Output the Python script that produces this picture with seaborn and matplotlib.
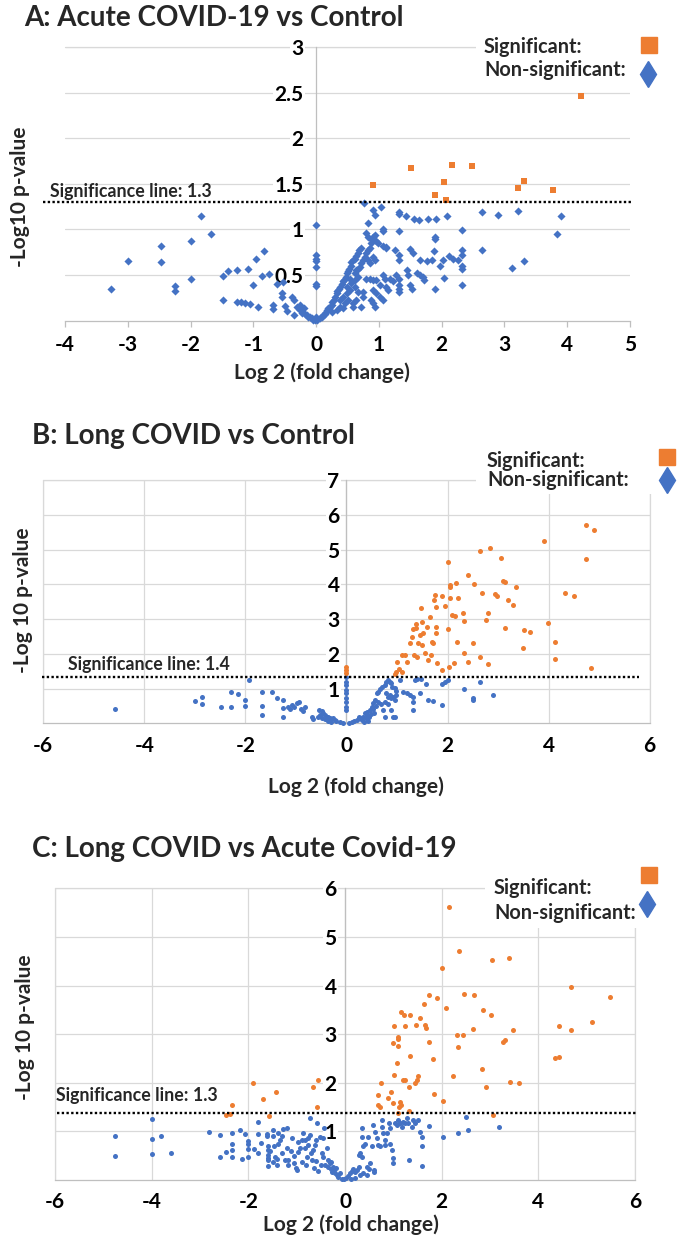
import matplotlib
matplotlib.use("Agg")
import matplotlib.pyplot as plt
import seaborn as sns
import pandas as pd
from matplotlib.patches import Rectangle
from matplotlib.lines import Line2D

# ---------------- data ----------------
titles = ["A: Acute COVID-19 vs Control", "B: Long COVID vs Control",
          "C: Long COVID vs Acute Covid-19"]
sig_texts = ["Significance line: 1.3", "Significance line: 1.4", "Significance line: 1.3"]
sig_levels = [1.30, 1.32, 1.38]
ylabels = ["-Log10 p-value", "-Log 10 p-value", "-Log 10 p-value"]
xlabel = "Log 2 (fold change)"
legend_labels = ["Significant:", "Non-significant:"]

a_xticks = [-4, -3, -2, -1, 0, 1, 2, 3, 4, 5]
a_yticks = [0.5, 1, 1.5, 2, 2.5, 3]
a_ytick_labels = ["0.5", "1", "1.5", "2", "2.5", "3"]
b_xticks = [-6, -4, -2, 0, 2, 4, 6]
b_yticks = [1, 2, 3, 4, 5, 6, 7]
c_xticks = [-6, -4, -2, 0, 2, 4, 6]
c_yticks = [1, 2, 3, 4, 5, 6]

a_sig = [(0.90, 1.49), (1.51, 1.67), (2.16, 1.71), (2.49, 1.70), (2.03, 1.52), (1.90, 1.38),
         (2.07, 1.32), (3.21, 1.45), (3.31, 1.53), (3.77, 1.43), (4.22, 2.46)]

a_ns = [(-3.26, 0.35), (-2.99, 0.65), (-2.47, 0.82), (-2.47, 0.64), (-2.25, 0.38), (-2.25, 0.33),
        (-2.00, 0.87), (-2.00, 0.46), (-1.84, 1.15), (-1.67, 0.95), (-1.48, 0.49), (-1.48, 0.23),
        (-1.41, 0.54), (-1.26, 0.56), (-1.26, 0.20), (-1.19, 0.20), (-1.13, 0.19), (-1.05, 0.18),
        (-1.09, 0.57), (-1.00, 0.39), (-0.96, 0.68), (-0.93, 0.15),
        (-0.83, 0.76), (-0.86, 0.49), (-0.75, 0.51), (-0.68, 0.17), (-0.68, 0.13), (-0.63, 0.40),
        (-0.55, 0.30), (-0.55, 0.26), (-0.52, 0.42), (-0.50, 0.16), (-0.47, 0.11), (-0.39, 0.26),
        (-0.36, 0.23), (-0.36, 0.06), (-0.31, 0.15), (-0.26, 0.17), (-0.26, 0.12), (-0.23, 0.08),
        (-0.20, 0.14), (-0.18, 0.07), (-0.15, 0.06), (-0.13, 0.04), (-0.10, 0.04), (-0.07, 0.03),
        (-0.05, 0.01), (-0.02, 0.01),
        (0.00, 1.05), (0.00, 0.72), (0.00, 0.68), (0.00, 0.65), (0.00, 0.59), (0.00, 0.40),
        (0.00, 0.38), (0.00, 0.04), (0.01, 0.01),
        (0.06, 0.03), (0.09, 0.04), (0.11, 0.06), (0.14, 0.07), (0.16, 0.10), (0.18, 0.12),
        (0.19, 0.14), (0.22, 0.15), (0.25, 0.17), (0.26, 0.20), (0.29, 0.23), (0.30, 0.26),
        (0.33, 0.30), (0.34, 0.33), (0.36, 0.35), (0.38, 0.37), (0.41, 0.40), (0.43, 0.43),
        (0.45, 0.45), (0.47, 0.48), (0.49, 0.52), (0.51, 0.54), (0.53, 0.57), (0.55, 0.60),
        (0.56, 0.64), (0.59, 0.67), (0.62, 0.68), (0.64, 0.71), (0.67, 0.74), (0.69, 0.77),
        (0.71, 0.80), (0.62, 0.52), (0.64, 0.56), (0.67, 0.57), (0.70, 0.59), (0.72, 0.63),
        (0.75, 0.67), (0.78, 0.70), (0.80, 0.74), (0.83, 0.77), (0.86, 0.80), (0.87, 0.85),
        (0.89, 0.88), (0.91, 0.92), (0.94, 0.94),
        (0.76, 1.29), (0.90, 1.21), (0.94, 1.16), (1.04, 1.25), (0.82, 1.07), (0.79, 0.96),
        (0.83, 0.92), (1.07, 1.01), (1.07, 0.98), (1.11, 0.81), (1.26, 0.77), (1.32, 1.19),
        (1.32, 1.17), (1.32, 0.98), (1.32, 0.72), (1.32, 0.67), (1.43, 1.15), (1.56, 1.12),
        (1.64, 1.10), (1.78, 1.12), (1.91, 1.11), (2.08, 1.15), (1.90, 0.92), (1.90, 0.90),
        (1.87, 0.76), (1.89, 0.35), (1.49, 0.79), (1.55, 0.74), (1.65, 0.67), (1.76, 0.65),
        (1.85, 0.67), (1.97, 0.60), (2.02, 0.67), (2.03, 0.47), (2.12, 0.71), (2.18, 0.68),
        (2.26, 0.67), (2.32, 0.99), (2.32, 0.77), (2.32, 0.72), (2.32, 0.60), (2.32, 0.57),
        (2.32, 0.39), (2.65, 1.19), (2.65, 0.77), (2.90, 1.16),
        (1.07, 0.82), (1.12, 0.80), (0.96, 0.87), (0.99, 0.85), (0.91, 0.70), (0.94, 0.67),
        (0.80, 0.46), (0.86, 0.46), (0.91, 0.45), (0.96, 0.45), (0.83, 0.67), (0.86, 0.63),
        (1.02, 0.39), (0.91, 0.34), (0.96, 0.30), (1.02, 0.26), (1.07, 0.23), (0.88, 0.23),
        (0.91, 0.19), (0.94, 0.15), (1.12, 0.37), (1.15, 0.34), (1.18, 0.46), (1.23, 0.43),
        (1.28, 0.50), (1.32, 0.46), (1.32, 0.39), (1.32, 0.35), (1.32, 0.32), (1.44, 0.56),
        (1.47, 0.50), (1.49, 0.39), (1.52, 0.35), (1.60, 0.52), (1.65, 0.50), (1.70, 0.48),
        (1.72, 0.45), (1.07, 0.50), (1.10, 0.46), (0.74, 0.32), (0.75, 0.26), (0.71, 0.15),
        (0.59, 0.19), (0.59, 0.15), (0.64, 0.23),
        (0.38, 0.23), (0.43, 0.26), (0.49, 0.30), (0.46, 0.19), (0.51, 0.23), (0.38, 0.15),
        (0.54, 0.34), (0.56, 0.41), (0.62, 0.37), (0.67, 0.32), (0.33, 0.12), (0.43, 0.14),
        (0.25, 0.10), (0.49, 0.37), (0.54, 0.46), (0.62, 0.45), (0.67, 0.48),
        (3.21, 1.20), (3.12, 0.58), (3.31, 0.65), (3.90, 1.15), (3.83, 0.95)]

b_sig = [(0.00, 1.61), (0.00, 1.53), (0.00, 1.46),
         (0.96, 1.41), (0.99, 1.49), (1.04, 1.55), (1.09, 1.49), (1.00, 1.77), (1.09, 1.97),
         (1.16, 1.97), (1.19, 1.77), (1.25, 2.30), (1.29, 2.49), (1.31, 2.70), (1.38, 2.73),
         (1.38, 2.86), (1.34, 1.97), (1.39, 1.92), (1.42, 2.30), (1.45, 2.54), (1.49, 2.92),
         (1.49, 2.25), (1.52, 2.59), (1.47, 3.31), (1.55, 2.01), (1.59, 2.78), (1.62, 1.82),
         (1.65, 3.07), (1.67, 1.97), (1.70, 2.35), (1.72, 2.30), (1.73, 3.55), (1.75, 3.69),
         (1.77, 2.78), (1.77, 2.59), (1.80, 1.73), (1.77, 3.36), (1.90, 3.66), (1.90, 1.53),
         (1.95, 3.37), (2.00, 4.65), (2.00, 2.70), (2.04, 3.93), (2.05, 3.98), (2.03, 1.61),
         (2.05, 3.60), (2.08, 3.12), (2.12, 1.73), (2.17, 4.03), (2.15, 3.09), (2.18, 2.35),
         (2.20, 3.60), (2.31, 3.16), (2.33, 2.95), (2.33, 2.01), (2.41, 1.75), (2.41, 4.27),
         (2.51, 2.30), (2.53, 4.01), (2.64, 1.92), (2.65, 4.97), (2.69, 3.74), (2.77, 2.97),
         (2.81, 3.18), (2.81, 1.71), (2.84, 5.03), (2.94, 3.72), (2.98, 3.66), (3.05, 4.77),
         (3.09, 4.09), (3.14, 4.06), (3.14, 2.73), (3.20, 3.55), (3.30, 3.40), (3.36, 3.91),
         (3.51, 2.68), (3.64, 2.62), (3.49, 2.16), (3.99, 2.88), (4.13, 2.35), (4.13, 1.85),
         (4.33, 3.74), (4.50, 3.67), (4.85, 1.58), (3.91, 5.25), (4.74, 5.71), (4.90, 5.56),
         (4.75, 4.72)]

b_ns = [(-4.59, 0.40), (-3.00, 0.65), (-2.86, 0.77), (-2.86, 0.56), (-2.49, 0.46), (-2.28, 0.90),
        (-2.28, 0.46), (-2.14, 0.85), (-2.01, 0.67), (-2.01, 0.51), (-1.93, 1.26), (-1.68, 0.90),
        (-1.68, 0.50), (-1.68, 0.24), (-1.48, 0.90), (-1.37, 0.72), (-1.26, 0.67), (-1.26, 0.45),
        (-1.26, 0.19), (-1.15, 0.48), (-1.12, 0.40), (-1.07, 0.53), (-1.03, 0.46), (-0.98, 0.59),
        (-0.94, 0.62), (-0.89, 0.40), (-0.86, 0.34), (-0.82, 0.48), (-0.69, 0.19), (-0.67, 0.12),
        (-0.54, 0.38), (-0.49, 0.34), (-0.46, 0.29), (-0.53, 0.24), (-0.43, 0.24), (-0.39, 0.19),
        (-0.36, 0.17), (-0.33, 0.14), (-0.30, 0.12), (-0.26, 0.14), (-0.23, 0.10), (-0.20, 0.08),
        (-0.13, 0.05), (-0.06, 0.02), (-0.49, 0.14), (-0.56, 0.17), (-0.43, 0.12), (-0.36, 0.08),
        (-0.30, 0.05),
        (0.00, 1.34), (0.00, 1.20), (0.00, 1.10), (0.00, 0.96), (0.00, 0.86), (0.00, 0.72),
        (0.00, 0.62), (0.00, 0.48), (0.00, 0.38),
        (0.10, 0.05), (0.20, 0.10), (0.27, 0.14), (0.33, 0.17), (0.36, 0.29), (0.41, 0.24),
        (0.46, 0.38), (0.50, 0.48), (0.53, 0.58), (0.56, 0.67), (0.60, 0.86), (0.63, 0.91),
        (0.66, 0.98), (0.71, 1.05), (0.76, 1.10), (0.79, 1.20), (0.83, 1.25), (0.86, 1.20),
        (0.89, 1.15), (0.91, 1.05), (0.96, 1.01), (0.99, 0.94),
        (0.79, 0.86), (0.83, 0.77), (0.86, 0.81), (0.89, 0.72), (0.92, 0.77), (0.96, 0.67),
        (0.99, 0.81), (0.76, 0.62), (0.83, 0.56), (0.73, 0.38), (0.76, 0.19), (0.89, 0.38),
        (0.92, 0.17), (0.96, 0.19),
        (1.06, 1.25), (1.12, 0.91), (1.19, 0.86), (1.25, 0.81), (1.31, 0.77), (1.32, 0.62),
        (1.32, 0.38), (1.36, 1.25), (1.39, 1.27), (1.47, 1.28), (1.45, 0.86), (1.58, 1.13),
        (1.62, 0.67), (1.72, 0.64), (1.90, 0.53), (1.90, 1.13), (1.95, 1.20), (2.01, 1.25),
        (2.32, 0.98), (2.50, 0.72), (2.50, 0.67), (2.91, 0.82), (2.64, 1.20),
        (0.05, 0.02), (0.15, 0.07), (0.25, 0.19), (0.30, 0.10), (0.38, 0.14), (0.45, 0.19),
        (0.40, 0.33), (0.48, 0.28), (0.52, 0.40), (0.58, 0.50), (0.62, 0.60), (0.68, 0.55),
        (0.55, 0.30), (0.35, 0.05), (0.43, 0.08)]

c_sig = [(-2.46, 1.34), (-2.38, 1.36), (-2.33, 1.54), (-1.90, 1.99), (-1.69, 1.66), (-1.57, 1.32),
         (-1.43, 1.80), (-0.66, 1.92), (-0.55, 2.06), (-0.57, 1.50),
         (2.16, 5.61), (2.36, 4.72), (2.00, 4.36), (3.04, 4.53), (1.73, 3.80), (1.90, 3.75),
         (1.64, 3.62), (2.47, 3.82), (2.66, 3.81), (2.09, 3.53), (2.86, 3.50), (3.02, 3.39),
         (1.16, 3.46), (1.23, 3.40), (1.35, 3.40), (1.55, 3.33), (1.47, 3.19), (1.66, 3.19),
         (1.67, 3.12), (1.01, 3.17), (1.24, 3.16), (1.10, 2.94), (1.10, 2.89), (1.00, 2.81),
         (1.09, 2.76), (1.73, 2.83), (2.31, 2.98), (2.45, 2.98), (2.33, 2.74), (2.64, 3.11),
         (1.35, 2.56), (1.83, 2.48), (1.07, 2.40), (2.83, 2.28), (1.02, 2.16), (1.21, 2.06),
         (1.24, 2.06), (1.52, 2.14), (1.48, 2.06), (1.44, 2.00), (2.24, 2.13), (1.33, 1.91),
         (0.75, 2.00), (2.92, 1.92), (0.69, 1.75), (0.88, 1.68), (0.95, 1.80), (1.14, 1.61),
         (1.16, 1.54), (1.12, 1.51), (0.69, 1.54), (0.72, 1.51), (0.99, 1.59), (1.85, 1.76),
         (2.02, 1.63), (1.33, 1.41), (1.09, 1.37), (3.07, 1.34),
         (4.43, 3.16), (4.35, 2.50), (4.43, 2.52), (4.67, 3.09), (5.10, 3.24), (3.48, 3.09),
         (3.31, 2.88), (3.26, 2.83), (3.42, 2.02), (3.60, 1.99), (4.68, 3.96), (5.48, 3.76),
         (3.39, 4.57)]

c_ns = [(-4.75, 0.91), (-4.75, 0.50), (-4.00, 1.26), (-4.00, 0.84), (-4.00, 0.53), (-3.81, 0.90),
        (-3.59, 0.55), (-2.81, 0.99), (-2.59, 0.93), (-2.59, 0.48), (-2.46, 0.58), (-2.33, 0.96),
        (-2.33, 0.74), (-2.33, 0.62), (-2.33, 0.48), (-2.17, 1.02), (-2.14, 0.43), (-2.07, 0.95),
        (-2.00, 0.81), (-2.00, 0.74), (-2.00, 0.63), (-2.00, 0.47), (-1.88, 0.64), (-1.81, 1.19),
        (-1.81, 0.95), (-1.80, 0.56), (-1.73, 0.77), (-1.62, 0.95), (-1.60, 0.69), (-1.60, 0.62),
        (-1.60, 0.51), (-1.60, 0.45), (-1.60, 0.29),
        (-1.61, 0.91), (-1.55, 0.60), (-1.59, 0.41), (-1.48, 1.03), (-1.48, 0.91), (-1.46, 0.69),
        (-1.44, 0.48), (-1.41, 0.43), (-1.39, 0.75), (-1.38, 0.96), (-1.35, 0.82), (-1.30, 0.91),
        (-1.28, 1.04), (-1.21, 1.06), (-1.21, 0.65), (-1.17, 0.41), (-1.17, 0.31), (-1.09, 0.86),
        (-1.05, 0.49), (-1.05, 0.34), (-1.02, 0.24), (-1.00, 0.21), (-0.97, 0.79), (-0.97, 0.58),
        (-0.93, 0.65), (-0.90, 0.82), (-0.86, 0.96), (-0.83, 0.82), (-0.83, 0.65), (-0.79, 0.48),
        (-0.76, 0.72), (-0.76, 0.86), (-0.72, 1.27), (-0.72, 0.93), (-0.70, 0.55), (-0.69, 0.41),
        (-0.66, 0.62), (-0.63, 0.72), (-0.59, 0.82), (-0.57, 1.17), (-0.52, 0.89), (-0.48, 0.55),
        (-0.45, 0.86), (-0.45, 0.48), (-0.43, 1.06), (-0.41, 0.31), (-0.38, 0.65), (-0.36, 0.41),
        (-0.35, 0.27), (-0.31, 0.34), (-0.29, 0.22), (-0.28, 0.38), (-0.26, 0.17), (-0.24, 0.27),
        (-0.22, 0.21), (-0.21, 0.14), (-0.19, 0.24), (-0.17, 0.10), (-0.14, 0.07), (-0.10, 0.15),
        (-0.07, 0.03), (-1.25, 0.42), (-1.12, 0.60), (-1.30, 0.55), (-1.40, 0.30), (-1.50, 0.38),
        (-0.90, 0.38), (-0.80, 0.30), (-0.60, 0.40), (-0.65, 0.25), (-0.55, 0.18), (-0.50, 0.30),
        (-0.03, 0.02), (0.03, 0.05), (0.07, 0.08), (0.10, 0.14), (0.14, 0.19), (0.17, 0.22),
        (0.21, 0.17), (0.24, 0.21), (0.28, 0.51), (0.28, 0.27), (0.31, 0.55), (0.35, 0.48),
        (0.35, 1.06), (0.35, 0.89), (0.38, 0.69), (0.41, 0.75), (0.45, 0.27), (0.48, 0.89),
        (0.52, 0.34), (0.55, 0.69), (0.57, 1.13), (0.59, 0.17), (0.61, 0.21), (0.62, 0.99),
        (0.66, 0.86), (0.69, 0.72), (0.72, 0.69), (0.76, 1.10), (0.77, 1.23), (0.79, 0.96),
        (0.83, 0.82), (0.83, 0.72), (0.86, 0.96), (0.90, 1.17), (0.93, 1.06), (0.93, 0.75),
        (0.97, 0.62), (1.00, 0.45), (1.00, 0.34), (1.04, 1.17), (1.07, 1.13), (1.10, 1.23),
        (1.14, 1.17), (1.17, 1.10), (1.21, 1.20), (1.24, 1.17), (1.28, 1.27), (1.31, 1.17),
        (1.33, 0.41), (1.38, 1.10), (1.41, 1.23), (1.45, 1.17), (1.52, 1.23), (1.55, 0.99),
        (1.59, 0.89), (1.60, 0.69), (1.60, 0.29), (1.73, 1.11), (2.02, 0.89), (2.33, 0.96),
        (2.50, 1.29), (2.54, 1.03), (3.19, 1.08),
        (0.30, 0.10), (0.20, 0.05), (0.38, 0.15), (0.45, 0.10), (0.50, 0.22), (0.12, 0.03)]

# ---------------- style ----------------
sns.set_theme(style="white")
plt.rcParams['font.family'] = ['Lato', 'DejaVu Sans']
plt.rcParams['axes.unicode_minus'] = False

ORANGE = '#ED7D31'
BLUE = '#4472C4'
GRID = '#D9D9D9'
AXIS = '#BFBFBF'

W, H = 679, 1240
fig = plt.figure(figsize=(W / 100, H / 100), dpi=100)


def fx(px):
    return px / W


def fy(py):
    return 1 - py / H


panels = [
    dict(box=(65, 630, 47, 320.7), xlim=(-4, 5), ylim=(0, 3), xticks=a_xticks,
         yticks=a_yticks, ylabels_t=a_ytick_labels, sig=a_sig, ns=a_ns, sigm='s', nsm='D',
         s_sig=24, s_ns=17, vgrid=False, ypad=9, xtick_len=4, xpad=6,
         title_pos=(23.8, 26), sigtext_pos=(50, 197.3), sigline_px=(43, 633),
         ylab_pos=(20.5, 196.5), xlab_pos=(321.6, 373),
         leg_text=(484, 46.7, 70), leg_mark=((649, 45), (647.5, 73.5)),
         leg_box=(476, 28, 662, 86)),
    dict(box=(43.3, 649.6, 480, 723.3), xlim=(-6, 6), ylim=(0, 7), xticks=b_xticks,
         yticks=b_yticks, ylabels_t=[str(v) for v in b_yticks], sig=b_sig, ns=b_ns,
         sigm='o', nsm='o', s_sig=13, s_ns=13, vgrid=True, ypad=5, xtick_len=0, xpad=9,
         title_pos=(32.5, 444.3), sigtext_pos=(68.3, 670), sigline_px=(41.7, 638.8),
         ylab_pos=(22.7, 600), xlab_pos=(356, 787),
         leg_text=(487, 461, 480), leg_mark=((667, 456.5), (667, 480)),
         leg_box=(476, 445, 679, 494)),
    dict(box=(55, 635, 888.3, 1180), xlim=(-6, 6), ylim=(0, 6), xticks=c_xticks,
         yticks=c_yticks, ylabels_t=[str(v) for v in c_yticks], sig=c_sig, ns=c_ns,
         sigm='o', nsm='o', s_sig=13, s_ns=13, vgrid=True, ypad=6, xtick_len=0, xpad=9,
         title_pos=(32.5, 856.7), sigtext_pos=(56, 1101), sigline_px=(56.7, 636.6),
         ylab_pos=(25, 1027), xlab_pos=(350.7, 1225),
         leg_text=(494, 888, 913), leg_mark=((648.5, 875), (647, 904)),
         leg_box=(485, 860, 662, 928)),
]

for i, p in enumerate(panels):
    l, r, t, b = p['box']
    ax = fig.add_axes([fx(l), fy(b), (r - l) / W, (b - t) / H])
    ax.set_xlim(*p['xlim'])
    ax.set_ylim(*p['ylim'])
    ax.set_axisbelow(True)

    ns_df = pd.DataFrame(p['ns'], columns=['log2fc', 'nlogp'])
    sig_df = pd.DataFrame(p['sig'], columns=['log2fc', 'nlogp'])
    sns.scatterplot(data=ns_df, x='log2fc', y='nlogp', ax=ax, color=BLUE, marker=p['nsm'],
                    s=p['s_ns'], linewidth=0, zorder=3, clip_on=False)
    sns.scatterplot(data=sig_df, x='log2fc', y='nlogp', ax=ax, color=ORANGE, marker=p['sigm'],
                    s=p['s_sig'], linewidth=0, zorder=3, clip_on=False)

    # grid
    ax.grid(True, axis='y', color=GRID, lw=0.9)
    if p['vgrid']:
        ax.grid(True, axis='x', color=GRID, lw=0.9)
        ax.axvline(p['xlim'][0], color=GRID, lw=0.9, clip_on=False, zorder=0.4)
        ax.axvline(p['xlim'][1], color=GRID, lw=0.9, clip_on=False, zorder=0.4)
    ax.axhline(p['ylim'][1], color=GRID, lw=0.9, clip_on=False, zorder=0.4)

    for side in ['top', 'right']:
        ax.spines[side].set_visible(False)
    ax.spines['left'].set_position(('data', 0))
    ax.spines['left'].set_color(AXIS)
    ax.spines['left'].set_linewidth(0.9)
    ax.spines['bottom'].set_color(AXIS)
    ax.spines['bottom'].set_linewidth(0.9)

    ax.set_xticks(p['xticks'])
    ax.set_xticklabels([str(v) for v in p['xticks']], fontsize=15, fontweight='bold',
                       color='black')
    ax.set_yticks(p['yticks'])
    ax.set_yticklabels(p['ylabels_t'], fontsize=15, fontweight='bold', color='black')
    ax.tick_params(axis='x', length=p['xtick_len'], width=0.9, color=AXIS, pad=p['xpad'],
                   direction='out', bottom=True)
    ax.tick_params(axis='y', length=0, pad=p['ypad'])
    for lbl in ax.get_yticklabels():
        lbl.set_bbox(dict(facecolor='white', edgecolor='none', pad=1.0))
    ax.set_xlabel('')
    ax.set_ylabel('')

    # significance line
    x0 = p['xlim'][0] + (p['sigline_px'][0] - l) / (r - l) * (p['xlim'][1] - p['xlim'][0])
    x1 = p['xlim'][0] + (p['sigline_px'][1] - l) / (r - l) * (p['xlim'][1] - p['xlim'][0])
    ax.plot([x0, x1], [sig_levels[i], sig_levels[i]], color='black', lw=1.7,
            linestyle=(0, (1, 1)), clip_on=False, zorder=4)

    # texts
    fig.text(fx(p['title_pos'][0]), fy(p['title_pos'][1]), titles[i], ha='left', va='baseline',
             fontsize=20, fontweight='bold')
    fig.text(fx(p['sigtext_pos'][0]), fy(p['sigtext_pos'][1]), sig_texts[i], ha='left',
             va='baseline', fontsize=12.8, fontweight='bold')
    fig.text(fx(p['ylab_pos'][0]), fy(p['ylab_pos'][1]), ylabels[i], ha='center', va='center',
             rotation=90, fontsize=15, fontweight='bold')
    fig.text(fx(p['xlab_pos'][0]), fy(p['xlab_pos'][1]), xlabel, ha='center', va='center',
             fontsize=15, fontweight='bold')

    # legend (Excel style: label, then marker)
    bx0, by0, bx1, by1 = p['leg_box']
    fig.patches.append(Rectangle((fx(bx0), fy(by1)), (bx1 - bx0) / W, (by1 - by0) / H,
                                 transform=fig.transFigure, facecolor='white',
                                 edgecolor='none', zorder=2))
    tx, ty1, ty2 = p['leg_text']
    fig.text(fx(tx), fy(ty1), legend_labels[0], ha='left', va='center', fontsize=14.3,
             fontweight='bold', zorder=4)
    fig.text(fx(tx), fy(ty2), legend_labels[1], ha='left', va='center', fontsize=14.3,
             fontweight='bold', zorder=4)
    (mx1, my1), (mx2, my2) = p['leg_mark']
    fig.add_artist(Line2D([fx(mx1)], [fy(my1)], marker='s', markersize=11.5, color=ORANGE,
                          linestyle='none', transform=fig.transFigure, zorder=4))
    fig.add_artist(Line2D([fx(mx2)], [fy(my2)], marker='d', markersize=13.5, color=BLUE,
                          linestyle='none', transform=fig.transFigure, zorder=4))

fig.savefig('out.png', dpi=100, facecolor='white')
